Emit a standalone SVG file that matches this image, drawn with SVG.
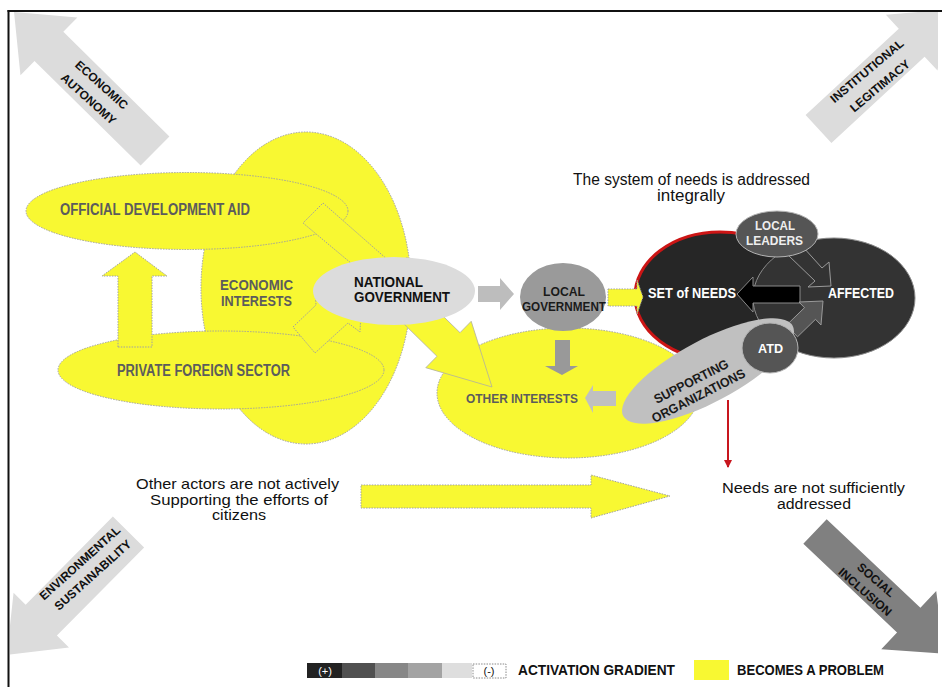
<svg xmlns="http://www.w3.org/2000/svg" width="942" height="687" viewBox="0 0 942 687">
<defs>
<style>
.b{font-family:"Liberation Sans",Arial,sans-serif;font-weight:bold;}
.r{font-family:"Liberation Sans",Arial,sans-serif;font-weight:normal;fill:#111;}
.y{fill:#f8f832;stroke:#a0a0a0;stroke-width:1;stroke-dasharray:1.5 1.2;}
.gl{fill:#dcdcdc;}
.ct{font-size:12px;fill:#111;text-anchor:middle;}
.gt{fill:#5c5c5c;}
</style>
<clipPath id="frameClip"><rect x="10" y="12" width="928" height="680"/></clipPath>
<marker id="redHead" markerWidth="8" markerHeight="8" refX="7" refY="4" orient="auto" markerUnits="userSpaceOnUse"><path d="M0,0 L8,4 L0,8 Z" fill="#c8161e"/></marker>
</defs>
<rect x="0" y="0" width="942" height="687" fill="#ffffff"/>

<!-- corner dimension arrows -->
<g id="corner-arrows" clip-path="url(#frameClip)">
<g id="economic-autonomy" transform="translate(155,151) rotate(-135.4)">
<polygon class="gl" points="0,-20.5 149,-20.5 149,-40.5 198,0 149,40.5 149,20.5 0,20.5"/>
</g>
<g id="institutional-legitimacy" transform="translate(818.5,129) rotate(-42.8)">
<polygon class="gl" points="0,-19 127,-19 127,-38 176,0 127,38 127,19 0,19"/>
</g>
<g id="environmental-sustainability" transform="translate(128.5,532) rotate(134.7)">
<polygon class="gl" points="0,-22 124,-22 124,-39 173,0 124,39 124,22 0,22"/>
</g>
<g id="social-inclusion" transform="translate(815,531.5) rotate(43.4)">
<polygon fill="#808080" points="0,-17 129,-17 129,-40 178,0 129,40 129,17 0,17"/>
</g>
</g>
<g id="corner-labels" class="b">
<text class="ct" transform="translate(101.5,85) rotate(42)" y="4">ECONOMIC</text>
<text class="ct" transform="translate(88.5,99) rotate(42)" y="4">AUTONOMY</text>
<text class="ct" transform="translate(867,71) rotate(-40)" y="4">INSTITUTIONAL</text>
<text class="ct" transform="translate(880,86) rotate(-40)" y="4">LEGITIMACY</text>
<text class="ct" transform="translate(80,563) rotate(-42)" y="4">ENVIRONMENTAL</text>
<text class="ct" transform="translate(93,575) rotate(-42)" y="4">SUSTAINABILITY</text>
<text class="ct" transform="translate(876,580) rotate(41)" y="4">SOCIAL</text>
<text class="ct" transform="translate(865,592) rotate(41)" y="4">INCLUSION</text>
</g>

<!-- left cluster -->
<g id="economic-interests">
<ellipse class="y" cx="306" cy="288" rx="105" ry="156"/>
<text class="b gt" x="220" y="290" font-size="15.5" textLength="73" lengthAdjust="spacingAndGlyphs">ECONOMIC</text>
<text class="b gt" x="221" y="306" font-size="15.5" textLength="71" lengthAdjust="spacingAndGlyphs">INTERESTS</text>
</g>
<g id="official-development-aid">
<ellipse class="y" cx="187" cy="211" rx="161" ry="38.5"/>
<text class="b gt" x="60" y="215" font-size="16" textLength="190" lengthAdjust="spacingAndGlyphs">OFFICIAL DEVELOPMENT AID</text>
</g>
<g id="private-foreign-sector">
<ellipse class="y" cx="221" cy="370" rx="163" ry="39"/>
<text class="b gt" x="117" y="376" font-size="16" textLength="173" lengthAdjust="spacingAndGlyphs">PRIVATE FOREIGN SECTOR</text>
</g>

<g id="connectors-a">
<polygon class="y" points="118,347 118,276 102,276 135,252 167,276 152,276 152,347"/>
<polygon class="y" points="323,203 397,268 407,257 404,294 369,291 376,284 303,223"/>
<polygon class="y" points="293,327 316,305 315,290 362,290 360,332 348,323 315,353"/>
</g>

<g id="other-interests">
<ellipse class="y" cx="568" cy="393" rx="131" ry="65"/>
<text class="b gt" x="466" y="403" font-size="13.5" textLength="112" lengthAdjust="spacingAndGlyphs">OTHER INTERESTS</text>
</g>

<g id="connectors-b">
<polygon fill="#f8f832" stroke="#b0b0a0" stroke-width="0.8" points="410,283.7 460,332.7 471.2,321.3 492,387 425.8,367.7 437,356.3 387,307.3"/>
</g>

<g id="national-government">
<ellipse fill="#dcdcdc" cx="394" cy="291" rx="81" ry="34"/>
<text class="b" fill="#111" x="354" y="287" font-size="14" textLength="69" lengthAdjust="spacingAndGlyphs">NATIONAL</text>
<text class="b" fill="#111" x="354" y="302" font-size="14" textLength="96" lengthAdjust="spacingAndGlyphs">GOVERNMENT</text>
</g>

<g id="local-government">
<ellipse fill="#9a9a9a" cx="563" cy="297" rx="43" ry="34"/>
<text class="b" fill="#1a1a1a" x="543" y="296" font-size="13" textLength="42" lengthAdjust="spacingAndGlyphs">LOCAL</text>
<text class="b" fill="#1a1a1a" x="522" y="311" font-size="13" textLength="84" lengthAdjust="spacingAndGlyphs">GOVERNMENT</text>
</g>

<!-- right cluster -->
<g id="set-of-needs">
<ellipse fill="#262626" stroke="#cc1515" stroke-width="3" cx="720" cy="296" rx="85" ry="64"/>
</g>
<g id="affected">
<ellipse fill="#333333" stroke="#8a8a8a" stroke-width="1" cx="834" cy="298" rx="81" ry="60"/>
<text class="b" fill="#ffffff" x="828" y="298" font-size="15" textLength="66" lengthAdjust="spacingAndGlyphs">AFFECTED</text>
</g>
<g id="set-of-needs-label">
<text class="b" fill="#ffffff" x="648" y="298" font-size="15" textLength="88" lengthAdjust="spacingAndGlyphs">SET of NEEDS</text>
</g>

<g id="connectors-c">
<polygon fill="#bdbdbd" points="478,286 500,286 500,278 514,294 500,310 500,302 478,302"/>
<polygon fill="#999999" points="555,340 570,340 570,366 578,366 562,375 545,366 555,366"/>
<polygon fill="#c0c0c0" points="616,391 593,391 593,385 585,398 593,413 593,406 616,406"/>
<polygon class="y" points="608,289 637,289 637,280 643,297 637,314 637,306 608,306"/>
<polygon fill="#000000" stroke="#8a8a8a" stroke-width="1" points="800,286 753,286 753,277 737,294 753,312 753,303 800,303"/>
<polygon fill="#333333" stroke="#9a9a9a" stroke-width="1" points="788,255 815,281 808,287 831,286 829,262 822,268 803,247"/>
<polygon fill="#555555" stroke="#9a9a9a" stroke-width="1" points="786.5,325.2 804.5,307.7 799,302 823,301 821,325 815.5,319.3 797.5,336.8"/>
<line x1="728" y1="400" x2="728" y2="467" stroke="#c8161e" stroke-width="2" marker-end="url(#redHead)"/>
</g>

<g id="supporting-organizations">
<ellipse fill="#c0c0c0" cx="708" cy="371" rx="96" ry="31" transform="rotate(-28 708 371)"/>
<g transform="translate(695,389) rotate(-27)">
<text class="b" fill="#1a1a1a" x="0" y="-4" font-size="13" text-anchor="middle" textLength="82" lengthAdjust="spacingAndGlyphs">SUPPORTING</text>
<text class="b" fill="#1a1a1a" x="0" y="12" font-size="13" text-anchor="middle" textLength="103" lengthAdjust="spacingAndGlyphs">ORGANIZATIONS</text>
</g>
</g>

<g id="atd">
<ellipse fill="#555555" stroke="#b5b5b5" stroke-width="1" cx="770" cy="348" rx="28" ry="25"/>
<text class="b" fill="#ffffff" x="758" y="353" font-size="13" textLength="25" lengthAdjust="spacingAndGlyphs">ATD</text>
</g>

<g id="local-leaders">
<ellipse fill="#555555" stroke="#b5b5b5" stroke-width="1" cx="777" cy="234" rx="41" ry="23"/>
<text class="b" fill="#eeeeee" x="755" y="230" font-size="13.5" textLength="40" lengthAdjust="spacingAndGlyphs">LOCAL</text>
<text class="b" fill="#eeeeee" x="746" y="245" font-size="13.5" textLength="57" lengthAdjust="spacingAndGlyphs">LEADERS</text>
</g>

<g id="title">
<text class="r" x="573" y="185" font-size="16" textLength="237" lengthAdjust="spacingAndGlyphs">The system of needs is addressed</text>
<text class="r" x="657" y="201" font-size="16" textLength="68" lengthAdjust="spacingAndGlyphs">integrally</text>
</g>

<g id="bottom-statement">
<text class="r" x="136" y="489" font-size="14.5" textLength="203" lengthAdjust="spacingAndGlyphs">Other actors are not actively</text>
<text class="r" x="150" y="504.5" font-size="14.5" textLength="178" lengthAdjust="spacingAndGlyphs">Supporting the efforts of</text>
<text class="r" x="212" y="520" font-size="14.5" textLength="54" lengthAdjust="spacingAndGlyphs">citizens</text>
</g>
<g id="connectors-d">
<polygon class="y" points="361,485 591,485 591,475 670,496 591,518 591,508 361,508"/>
</g>
<g id="needs-statement">
<text class="r" x="722" y="493" font-size="15.5" textLength="183" lengthAdjust="spacingAndGlyphs">Needs are not sufficiently</text>
<text class="r" x="777" y="509" font-size="15.5" textLength="74" lengthAdjust="spacingAndGlyphs">addressed</text>
</g>

<g id="legend">
<rect x="307" y="663" width="35" height="15" fill="#222222"/>
<rect x="342" y="663" width="33" height="15" fill="#505050"/>
<rect x="375" y="663" width="33" height="15" fill="#878787"/>
<rect x="408" y="663" width="34" height="15" fill="#a3a3a3"/>
<rect x="442" y="663" width="30" height="15" fill="#dedede"/>
<rect x="473" y="664" width="33" height="14" fill="#ffffff" stroke="#888" stroke-width="1" stroke-dasharray="1.5 1.2"/>
<text class="r" x="325" y="675" font-size="11" style="fill:#ffffff" text-anchor="middle">(+)</text>
<text class="r" x="489" y="675" font-size="11" text-anchor="middle">(-)</text>
<text class="b" fill="#111" x="518" y="675" font-size="14.5" textLength="157" lengthAdjust="spacingAndGlyphs">ACTIVATION GRADIENT</text>
<rect x="694" y="660" width="35" height="20" fill="#f8f832"/>
<text class="b" fill="#111" x="737" y="675" font-size="14.5" textLength="147" lengthAdjust="spacingAndGlyphs">BECOMES A PROBLEM</text>
</g>

<g id="frame" fill="none" stroke="#111" stroke-width="2">
<line x1="8.5" y1="10" x2="8.5" y2="687"/>
<line x1="7.5" y1="11" x2="942" y2="11"/>
</g>
</svg>
